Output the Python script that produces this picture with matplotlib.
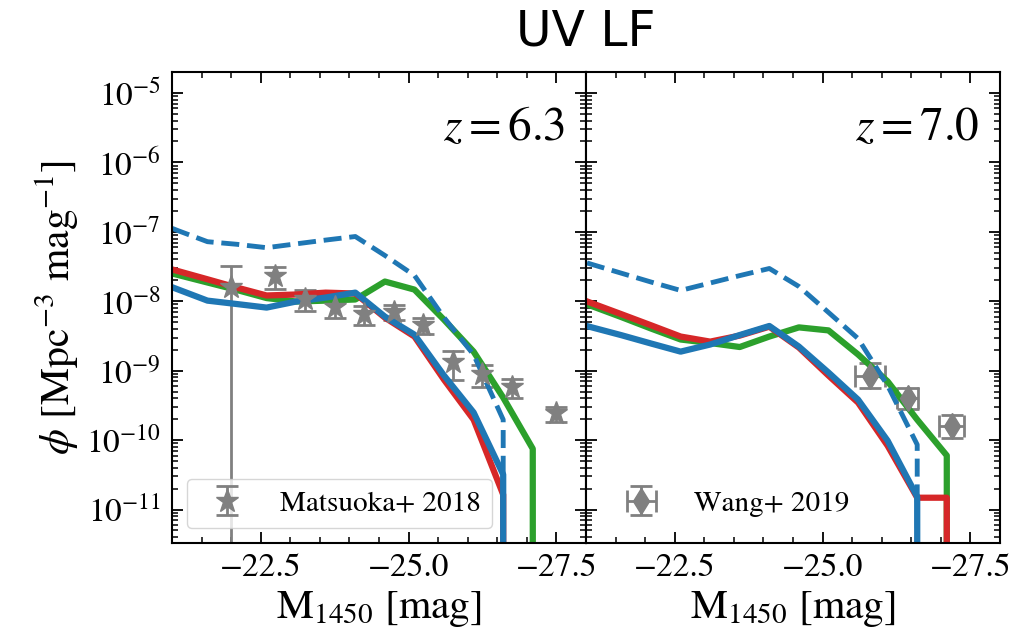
import numpy as np
import matplotlib
matplotlib.use("Agg")
import matplotlib.pyplot as plt
from matplotlib.ticker import MultipleLocator

plt.rcParams['font.family'] = 'serif'
plt.rcParams['font.serif'] = ['STIXGeneral', 'Liberation Serif', 'DejaVu Serif']
plt.rcParams['mathtext.fontset'] = 'stix'

# magnitude grid of the model curves
mag = [-20.6, -21.1, -21.6, -22.1, -22.6, -23.1, -23.6, -24.1, -24.6,
       -25.1, -25.6, -26.1, -26.6, -27.1, -27.6]

# z = 6.3 models
red_63 = [3.57e-8, 2.72e-8, 2.07e-8, 1.57e-8, 1.21e-8, 1.25e-8, 1.33e-8, 1.29e-8,
          5.8e-9, 3.1e-9, 7.4e-10, 1.97e-10, 1.64e-11, 0, 0]
green_63 = [3.08e-8, 2.39e-8, 1.86e-8, 1.45e-8, 1.11e-8, 9.9e-9, 1.02e-8, 1.06e-8,
            1.92e-8, 1.47e-8, 5.4e-9, 1.88e-9, 4.1e-10, 7.5e-11, 0]
blue_63 = [2.15e-8, 1.48e-8, 1.02e-8, 9.1e-9, 8.1e-9, 9.9e-9, 1.13e-8, 1.33e-8,
           6.0e-9, 3.3e-9, 8.5e-10, 2.5e-10, 3.2e-11, 0, 0]
dash_63 = [1.53e-7, 1.04e-7, 7.2e-8, 6.6e-8, 5.9e-8, 6.7e-8, 7.6e-8, 8.55e-8,
           4.56e-8, 2.35e-8, 5.8e-9, 1.7e-9, 1.97e-10, 0, 0]

# z = 7.0 models
red_70 = [1.35e-8, 9.35e-9, 6.5e-9, 4.5e-9, 3.1e-9, 2.62e-9, 3.2e-9, 4.3e-9,
          2.15e-9, 8.5e-10, 3.47e-10, 8.3e-11, 1.48e-11, 1.48e-11, 0]
green_70 = [1.22e-8, 8.5e-9, 5.9e-9, 4.04e-9, 2.81e-9, 2.5e-9, 2.19e-9, 3.1e-9,
            4.2e-9, 3.8e-9, 1.71e-9, 7.0e-10, 1.97e-10, 6.0e-11, 0]
blue_70 = [5.5e-9, 4.2e-9, 3.24e-9, 2.46e-9, 1.88e-9, 2.38e-9, 3.26e-9, 4.4e-9,
           2.22e-9, 9.4e-10, 3.83e-10, 9.8e-11, 1.53e-11, 0, 0]
dash_70 = [4.56e-8, 3.39e-8, 2.53e-8, 1.89e-8, 1.43e-8, 1.83e-8, 2.34e-8, 2.96e-8,
           1.63e-8, 6.9e-9, 2.9e-9, 6.1e-10, 8.6e-11, 0, 0]

# Matsuoka+ 2018
m18_mag = [-22.0, -22.75, -23.25, -23.75, -24.25, -24.75, -25.25, -25.75, -26.25, -26.75, -27.5]
m18_phi = [16.2e-9, 23.0e-9, 10.9e-9, 8.3e-9, 6.6e-9, 7.0e-9, 4.6e-9, 1.33e-9, 0.90e-9, 0.58e-9, 0.242e-9]
m18_err = [16.2e-9, 8.1e-9, 3.6e-9, 2.6e-9, 2.0e-9, 1.7e-9, 1.2e-9, 0.60e-9, 0.32e-9, 0.17e-9, 0.061e-9]

# Wang+ 2019
w19_mag = [-25.80, -26.44, -27.18]
w19_magerr = [0.26, 0.18, 0.21]
w19_phi = [8.3e-10, 4.06e-10, 1.58e-10]
w19_lo = [2.6e-10, 1.3e-10, 5.0e-11]
w19_hi = [4.8e-10, 1.6e-10, 7.5e-11]

fig, axes = plt.subplots(1, 2, figsize=(10.2, 6.4), dpi=100, sharey=True)
fig.subplots_adjust(left=0.1686, right=0.9804, bottom=0.1516, top=0.8875, wspace=0)

ax = axes[0]
ax.errorbar(m18_mag, m18_phi, yerr=m18_err, fmt='*', color='gray', ms=17,
            elinewidth=2, capsize=8, capthick=2, label='Matsuoka+ 2018')
ax.plot(mag, green_63, color='#2ca02c', lw=4.5)
ax.plot(mag, red_63, color='#d62728', lw=4.5)
ax.plot(mag, blue_63, color='#1f77b4', lw=4.5)
ax.plot(mag, dash_63, color='#1f77b4', lw=3.5, ls='--')
ax.text(0.95, 0.88, r'$z=6.3$', transform=ax.transAxes, ha='right', va='center', fontsize=34)
ax.legend(loc='lower left', fontsize=21)

ax = axes[1]
ax.errorbar(w19_mag, w19_phi, xerr=w19_magerr, yerr=[w19_lo, w19_hi], fmt='d', color='gray',
            ms=13, elinewidth=2, capsize=8, capthick=2, label='Wang+ 2019')
ax.plot(mag, green_70, color='#2ca02c', lw=4.5)
ax.plot(mag, red_70, color='#d62728', lw=4.5)
ax.plot(mag, blue_70, color='#1f77b4', lw=4.5)
ax.plot(mag, dash_70, color='#1f77b4', lw=3.5, ls='--')
ax.text(0.95, 0.88, r'$z=7.0$', transform=ax.transAxes, ha='right', va='center', fontsize=34)
ax.legend(loc='lower left', fontsize=21, frameon=False)

for ax in axes:
    ax.set_yscale('log')
    ax.set_xlim(-21, -28)
    ax.set_ylim(3.3e-12, 2e-5)
    ax.xaxis.set_major_locator(MultipleLocator(2.5))
    ax.xaxis.set_minor_locator(MultipleLocator(0.5))
    ax.tick_params(which='both', direction='in', top=True, right=True, labelsize=24, pad=8)
    ax.tick_params(which='major', length=8, width=1.3)
    ax.tick_params(which='minor', length=4.5, width=1.1)
    for s in ax.spines.values():
        s.set_linewidth(1.5)
    ax.set_xlabel(r'$\rm M_{1450}$ [mag]', fontsize=30)

axes[0].set_ylabel(r'$\phi$ [Mpc$^{-3}$ mag$^{-1}$]', fontsize=30)
fig.suptitle('UV LF', x=0.5745, y=0.95, va='center', fontsize=35, family='DejaVu Sans')

fig.savefig('out.png', dpi=100)
